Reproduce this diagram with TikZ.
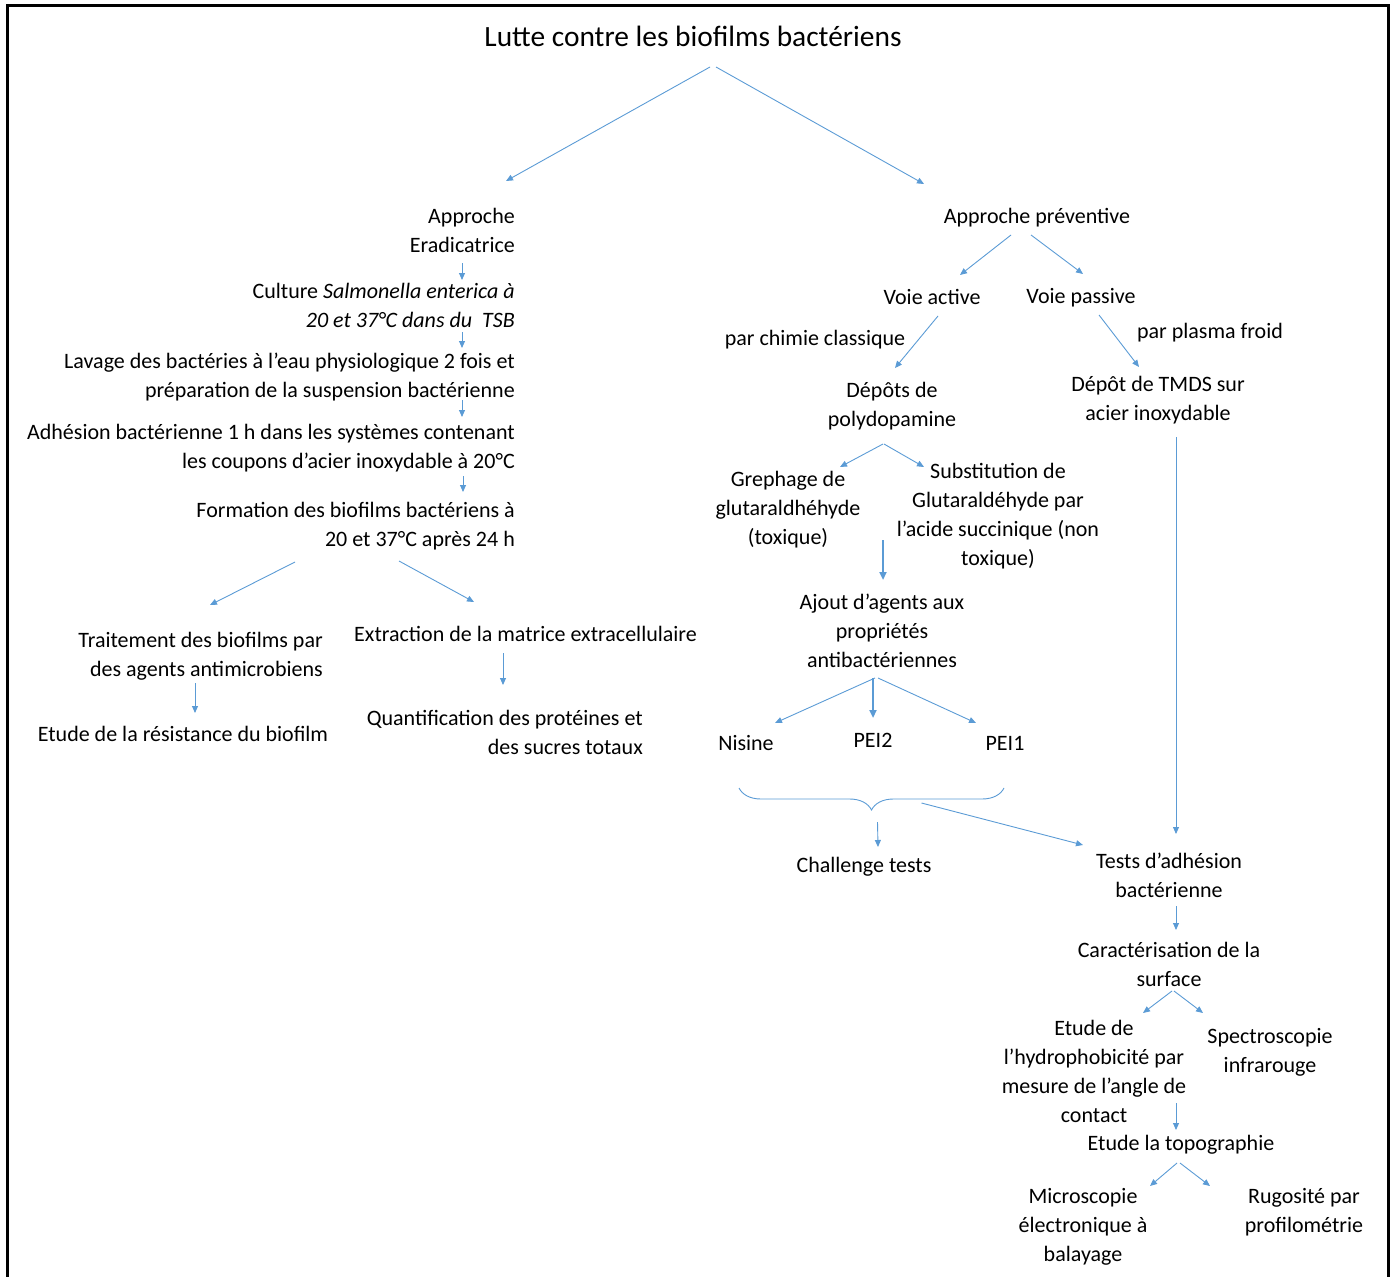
\documentclass[tikz,border=0pt]{standalone}
\usepackage{fontspec}
\setmainfont{Carlito}
\usetikzlibrary{arrows.meta,decorations.pathreplacing,calc}
\definecolor{arrblue}{HTML}{5B9BD5}
\begin{document}
\begin{tikzpicture}[x=1pt,y=-1pt,
  txt/.style={inner sep=2pt, font=\fontsize{22}{29}\selectfont},
  ttl/.style={inner sep=2pt, font=\fontsize{29.4}{35}\selectfont},
  arr/.style={draw=arrblue, line width=0.9pt, -{Triangle[length=7pt,width=6pt]}},
  arrthick/.style={draw=arrblue, line width=2pt, -{Triangle[length=8pt,width=7pt]}},
  bracestyle/.style={draw=arrblue, line width=0.9pt, decorate, decoration={brace, mirror, amplitude=22pt}},
  frame/.style={draw=black, line width=3pt}
]
\useasboundingbox (0,0) rectangle (1391,1276);
\draw[frame] (7.5,5.5) rectangle (1388.5,1300);

% title
\node[ttl, anchor=base] (title) at (693,47) {Lutte contre les biofilms bactériens};

% left column
\node[txt, align=right, anchor=north east] (appE) at (517,206) {Approche\\Eradicatrice};
\node[txt, align=right, anchor=north east] (cult) at (517,281) {Culture \textit{Salmonella enterica à}\\\textit{20 et 37°C dans du\ \ TSB}};
\node[txt, align=right, anchor=north east] (lav) at (517,351) {Lavage des bactéries à l’eau physiologique 2 fois et\\préparation de la suspension bactérienne};
\node[txt, align=right, anchor=north east] (adh) at (517,422) {Adhésion bactérienne 1 h dans les systèmes contenant\\les coupons d’acier inoxydable à 20°C};
\node[txt, align=right, anchor=north east] (form) at (517,500) {Formation des biofilms bactériens à\\20 et 37°C après 24 h};
\node[txt, align=right, anchor=north east] (trait) at (325,630) {Traitement des biofilms par\\des agents antimicrobiens};
\node[txt, anchor=base west] (extr) at (352,641) {Extraction de la matrice extracellulaire};
\node[txt, anchor=base] (etudeR) at (183,741) {Etude de la résistance du biofilm};
\node[txt, align=right, anchor=north east] (quant) at (645,708) {Quantification des protéines et\\des sucres totaux};

% right part
\node[txt, anchor=base] (appP) at (1037,223) {Approche préventive};
\node[txt, anchor=base] (vAct) at (932,304) {Voie active};
\node[txt, anchor=base] (vPas) at (1081,303) {Voie passive};
\node[txt, anchor=base] (chim) at (815,345) {par chimie classique};
\node[txt, anchor=base] (plasma) at (1210,338) {par plasma froid};
\node[txt, align=center, anchor=north] (poly) at (892,380) {Dépôts de\\polydopamine};
\node[txt, align=center, anchor=north] (tmds) at (1158,374) {Dépôt de TMDS sur\\acier inoxydable};
\node[txt, align=center, anchor=north] (greph) at (788,469) {Grephage de\\glutaraldhéhyde\\(toxique)};
\node[txt, align=center, anchor=north] (subst) at (998,461) {Substitution de\\Glutaraldéhyde par\\l’acide succinique (non\\toxique)};
\node[txt, align=center, anchor=north] (ajout) at (882,592) {Ajout d’agents aux\\propriétés\\antibactériennes};
\node[txt, anchor=base] (nis) at (746,750) {Nisine};
\node[txt, anchor=base] (pei2) at (873,747) {PEI2};
\node[txt, anchor=base] (pei1) at (1005,750) {PEI1};
\node[txt, anchor=base] (chal) at (864,872) {Challenge tests};
\node[txt, align=center, anchor=north] (tests) at (1169,851) {Tests d’adhésion\\bactérienne};
\node[txt, align=center, anchor=north] (carac) at (1169,940) {Caractérisation de la\\surface};
\node[txt, align=center, anchor=north] (hydro) at (1094,1018) {Etude de\\l’hydrophobicité par\\mesure de l’angle de\\contact};
\node[txt, align=center, anchor=north] (spec) at (1270,1026) {Spectroscopie\\infrarouge};
\node[txt, anchor=base] (topo) at (1181,1150) {Etude la topographie};
\node[txt, align=center, anchor=north] (micro) at (1083,1186) {Microscopie\\électronique à\\balayage};
\node[txt, align=center, anchor=north] (rugo) at (1304,1186) {Rugosité par\\profilométrie};

% brace
\coordinate (bl) at ([xshift=-7pt,yshift=-38pt]nis.base);
\coordinate (br) at ([xshift=-1pt,yshift=-38pt]pei1.base);
\coordinate (btip) at ($(bl)!0.5!(br)+(0,22)$);
\draw[bracestyle] (bl) -- (br);

% connectors
\draw[arr] ([xshift=17pt,yshift=-20pt]title.base) -- ([xshift=-11pt,yshift=25pt]appE.north east);
\draw[arr] ([xshift=23pt,yshift=-20pt]title.base) -- ([xshift=-113pt,yshift=39pt]appP.base);
\draw[arr] ([xshift=-55pt,yshift=-57pt]appE.north east) -- ([xshift=-55pt,yshift=1pt]cult.north east);
\draw[arr] ([xshift=-55pt,yshift=-51pt]cult.north east) -- ([xshift=-55pt,yshift=3pt]lav.north east);
\draw[arr] ([xshift=-55pt,yshift=-49pt]lav.north east) -- ([xshift=-55pt,yshift=5pt]adh.north east);
\draw[arr] ([xshift=-54pt,yshift=-54pt]adh.north east) -- ([xshift=-54pt,yshift=8pt]form.north east);
\draw[arr] ([xshift=-222pt,yshift=-62pt]form.north east) -- ([xshift=-115pt,yshift=25pt]trait.north east);
\draw[arr] ([xshift=-118pt,yshift=-61pt]form.north east) -- ([xshift=122pt,yshift=39pt]extr.base west);
\draw[arr] ([xshift=-130pt,yshift=-53pt]trait.north east) -- ([xshift=12pt,yshift=28pt]etudeR.base);
\draw[arr] ([xshift=151pt,yshift=-12pt]extr.base west) -- ([xshift=-142pt,yshift=23pt]quant.north east);

\draw[arr] ([xshift=-26pt,yshift=-12pt]appP.base) -- ([xshift=28pt,yshift=29pt]vAct.base);
\draw[arr] ([xshift=-6pt,yshift=-12pt]appP.base) -- ([xshift=2pt,yshift=29pt]vPas.base);
\draw[arr] ([xshift=6pt,yshift=-12pt]vAct.base) -- ([xshift=3pt,yshift=12pt]poly.north);
\draw[arr] ([xshift=18pt,yshift=-12pt]vPas.base) -- ([xshift=-19pt,yshift=7pt]tmds.north);
\draw[arr] ([xshift=-9pt,yshift=-64pt]poly.north) -- ([xshift=52pt,yshift=2pt]greph.north);
\draw[arr] ([xshift=-8pt,yshift=-64pt]poly.north) -- ([xshift=-74pt,yshift=-6pt]subst.north);
\draw[arrthick] ([xshift=95pt,yshift=-71pt]greph.north) -- ([xshift=1pt,yshift=12pt]ajout.north);
\draw[arr] ([xshift=-7pt,yshift=-86pt]ajout.north) -- ([xshift=29pt,yshift=27pt]nis.base);
\draw[arrthick] ([xshift=-9pt,yshift=-86pt]ajout.north) -- ([xshift=0pt,yshift=29pt]pei2.base);
\draw[arr] ([xshift=-4pt,yshift=-86pt]ajout.north) -- ([xshift=-29pt,yshift=27pt]pei1.base);
\draw[arr] ([xshift=6pt,yshift=-12pt]btip) -- ([xshift=14pt,yshift=25pt]chal.base);
\draw[arr] ([xshift=50pt,yshift=7pt]btip) -- ([xshift=-86pt,yshift=6pt]tests.north);
\draw[arr] ([xshift=18pt,yshift=-63pt]tmds.north) -- ([xshift=7pt,yshift=17pt]tests.north);
\draw[arr] ([xshift=7pt,yshift=-55pt]tests.north) -- ([xshift=7pt,yshift=10pt]carac.north);
\draw[arr] ([xshift=3pt,yshift=-51pt]carac.north) -- ([xshift=49pt,yshift=5pt]hydro.north);
\draw[arr] ([xshift=5pt,yshift=-51pt]carac.north) -- ([xshift=-67pt,yshift=13pt]spec.north);
\draw[arr] ([xshift=82pt,yshift=-85pt]hydro.north) -- ([xshift=-5pt,yshift=20pt]topo.base);
\draw[arr] ([xshift=-4pt,yshift=-13pt]topo.base) -- ([xshift=67pt,yshift=0pt]micro.north);
\draw[arr] ([xshift=-1pt,yshift=-13pt]topo.base) -- ([xshift=-94pt,yshift=0pt]rugo.north);
\end{tikzpicture}
\end{document}
